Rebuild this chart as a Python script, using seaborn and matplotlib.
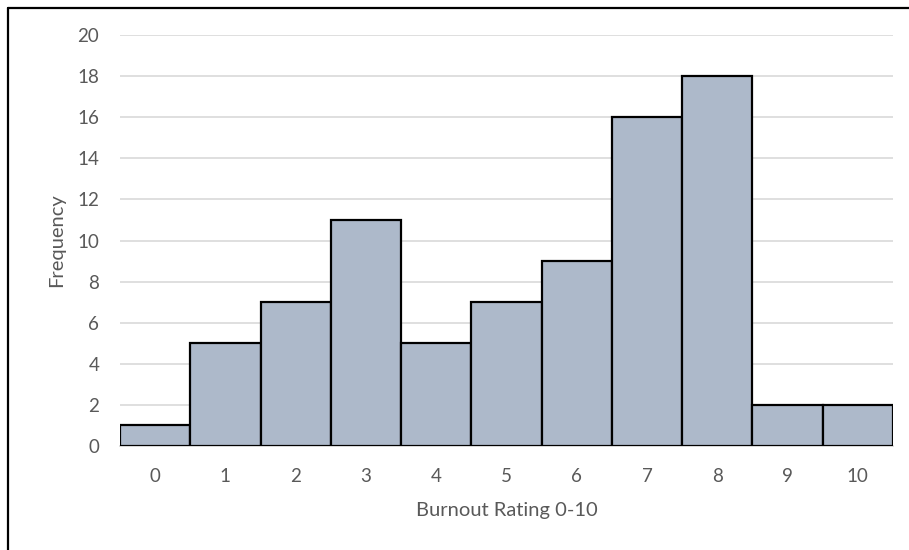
import matplotlib
matplotlib.use("Agg")
import matplotlib.pyplot as plt
import seaborn as sns
import pandas as pd
from matplotlib.lines import Line2D

ratings = ["0", "1", "2", "3", "4", "5", "6", "7", "8", "9", "10"]
frequency = [1, 5, 7, 11, 5, 7, 9, 16, 18, 2, 2]
y_ticks = [0, 2, 4, 6, 8, 10, 12, 14, 16, 18, 20]

sns.set_theme(style="white")
plt.rcParams['font.family'] = ['Lato', 'DejaVu Sans']

df = pd.DataFrame({"rating": ratings, "freq": frequency})

fig = plt.figure(figsize=(9.09, 5.5), dpi=100)
ax = fig.add_axes([120/909, 1-446/550, (893-120)/909, (446-35)/550])

sns.barplot(data=df, x="rating", y="freq", ax=ax, color="#ADB9CA",
            saturation=1, width=1.0, edgecolor="black", linewidth=1.6, zorder=3)

ax.set_ylim(0, 20)
ax.set_xlim(-0.5, 10.5)
ax.set_yticks(y_ticks)
ax.yaxis.grid(True, color="#D9D9D9", linewidth=1.2, zorder=0)
ax.set_axisbelow(True)
for s in ["top", "right", "left"]:
    ax.spines[s].set_visible(False)
ax.spines["bottom"].set_color("#D0D0D0")
ax.spines["bottom"].set_linewidth(1.2)
ax.tick_params(axis="both", length=0, labelsize=13.5, colors="#595959")
ax.tick_params(axis="x", pad=16)
ax.tick_params(axis="y", pad=15)
ax.set_xlabel("Burnout Rating 0-10", fontsize=14.5, color="#595959", labelpad=12)
ax.set_ylabel("Frequency", fontsize=14.5, color="#595959", labelpad=9)

# frame lines visible at top and left of the picture
fig.add_artist(Line2D([8/909, 1], [1-8/550, 1-8/550], transform=fig.transFigure,
                      color="black", linewidth=1.6))
fig.add_artist(Line2D([8/909, 8/909], [0, 1-8/550], transform=fig.transFigure,
                      color="black", linewidth=1.6))

fig.savefig("out.png", dpi=100)
